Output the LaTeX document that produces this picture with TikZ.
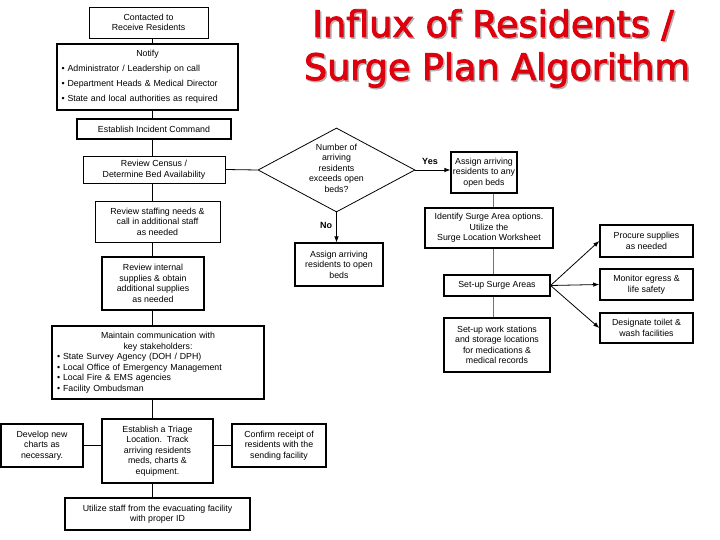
\documentclass[tikz,border=0pt]{standalone}
\usepackage{fontspec}
\setmainfont{Liberation Sans}
\newfontfamily\titlefont[RawFeature={embolden=2.5}]{DejaVu Sans}
\usetikzlibrary{shapes.geometric,arrows.meta}
\definecolor{titlered}{RGB}{222,0,12}
\begin{document}
\begin{tikzpicture}[x=1pt,y=-1pt,
  box/.style={draw, line width=0.8pt, inner sep=0pt, align=center, font=\fontsize{8.8}{10.5}\selectfont},
  thickbox/.style={box, line width=1.5pt},
  link/.style={line width=0.8pt},
  glink/.style={line width=0.7pt, draw=black!55},
  arr/.style={line width=0.8pt, -{Latex[length=6pt,width=4.5pt]}},
  lbl/.style={font=\bfseries\fontsize{9}{10}\selectfont, inner sep=0pt},
  titletext/.style={font=\titlefont\fontsize{36.5}{40}\selectfont, inner sep=0pt, anchor=base}]
\useasboundingbox[fill=white] (0,0) rectangle (720,540);

% title
\node[titletext, text=black!30] (title1s) at (494.5,38.5) {Influx of Residents /};
\node[titletext, text=black!30] (title2s) at (498.5,81.5) {Surge Plan Algorithm};
\node[titletext, text=titlered] (title1) at (493,37) {Influx of Residents /};
\node[titletext, text=titlered] (title2) at (497,80) {Surge Plan Algorithm};

% left column
\node[box, minimum width=119pt, minimum height=31pt] (contacted) at (148.5,22.5) {Contacted to\\Receive Residents};
\node[thickbox, minimum width=181pt, minimum height=66pt, text width=172pt, align=left,
      font=\fontsize{8.8}{15}\selectfont] (notify) at (147.5,77)
  {\makebox[172pt]{Notify}\\ • Administrator / Leadership on call\\ • Department Heads \& Medical Director\\ • State and local authorities as required};
\node[thickbox, minimum width=154pt, minimum height=20pt] (incident) at (154,129) {Establish Incident Command};
\node[box, minimum width=142pt, minimum height=27pt] (census) at (154,169.5) {Review Census /\\Determine Bed Availability};
\node[box, minimum width=125pt, minimum height=41pt] (staffing) at (157.5,221.5) {Review staffing needs \&\\call in additional staff\\as needed};
\node[box, line width=1.1pt, minimum width=102pt, minimum height=53pt] (supplies) at (153,283.5) {Review internal\\supplies \& obtain\\additional supplies\\as needed};
\node[box, line width=1.1pt, minimum width=212pt, minimum height=73pt, text width=202pt, align=left] (maintain) at (158,362.5)
  {\makebox[202pt]{Maintain communication with}\\ \makebox[202pt]{key stakeholders:}\\ • State Survey Agency (DOH / DPH)\\ • Local Office of Emergency Management\\ • Local Fire \& EMS agencies\\ • Facility Ombudsman};
\node[box, line width=1.1pt, minimum width=111pt, minimum height=64pt] (triage) at (157.5,451) {Establish a Triage\\Location.\ \ Track\\arriving residents\\meds, charts \&\\equipment.};
\node[thickbox, minimum width=82pt, minimum height=43pt] (develop) at (42,445.5) {Develop new\\charts as\\necessary.};
\node[thickbox, minimum width=94pt, minimum height=43pt] (confirm) at (279,445.5) {Confirm receipt of\\residents with the\\sending facility};
\node[thickbox, minimum width=185pt, minimum height=32pt] (utilize) at (157.5,514) {Utilize staff from the evacuating facility\\with proper ID};

% decision
\node[diamond, draw, line width=0.8pt, minimum width=157pt, minimum height=84pt, inner sep=0pt] (decision) at (336.5,170) {};
\node[box, draw=none] (dectext) at (336.5,168) {Number of\\arriving\\residents\\exceeds open\\beds?};
\node[box, line width=1.1pt, minimum width=88pt, minimum height=43pt] (openbeds) at (339,264.5) {Assign arriving\\residents to open\\beds};

% right column
\node[box, line width=1.1pt, minimum width=66pt, minimum height=41pt] (anyopen) at (484,172.5) {Assign arriving\\residents to any\\open beds};
\node[box, line width=1.1pt, minimum width=128pt, minimum height=40pt] (identify) at (489,228) {Identify Surge Area options.\\Utilize the\\Surge Location Worksheet};
\node[box, line width=1.1pt, minimum width=106pt, minimum height=21pt] (surge) at (497,285.5) {Set-up Surge Areas};
\node[box, line width=1.1pt, minimum width=106pt, minimum height=54pt] (work) at (497,345) {Set-up work stations\\and storage locations\\for medications \&\\medical records};
\node[thickbox, minimum width=93pt, minimum height=32pt] (procure) at (646.5,241) {Procure supplies\\as needed};
\node[thickbox, minimum width=93pt, minimum height=31pt] (monitor) at (646.5,284.5) {Monitor egress \&\\life safety};
\node[thickbox, minimum width=93pt, minimum height=30pt] (designate) at (646.5,328) {Designate toilet \&\\wash facilities};

% connectors
\coordinate (spine) at (152,0);
\coordinate (rspine) at (493,0);
\draw[link] (contacted.south -| spine) -- (notify.north -| spine);
\draw[link] (notify.south -| spine) -- (incident.north -| spine);
\draw[link] (incident.south -| spine) -- (census.north -| spine);
\draw[link] (census.south -| spine) -- (staffing.north -| spine);
\draw[link] (staffing.south -| spine) -- (supplies.north -| spine);
\draw[link] (supplies.south -| spine) -- (maintain.north -| spine);
\draw[link] (maintain.south -| spine) -- (triage.north -| spine);
\draw[link] (triage.south -| spine) -- (utilize.north -| spine);
\draw[link] (develop.east) -- (develop.east -| triage.west);
\draw[link] (confirm.west) -- (confirm.west -| triage.east);
\draw[link] (census.east) -- (decision.west);
\draw[arr] (decision.east) -- (decision.east -| anyopen.west);
\draw[arr] (decision.south) -- (openbeds.north -| decision.south);
\node[lbl] (yes) at (430,161) {Yes};
\node[lbl] (no) at (326,225) {No};
\draw[glink] (anyopen.south -| rspine) -- (identify.north -| rspine);
\draw[glink] (identify.south -| rspine) -- (surge.north -| rspine);
\draw[glink] (surge.south -| rspine) -- (work.north -| rspine);
\draw[arr] (surge.east) -- (procure.west);
\draw[arr] (surge.east) -- (monitor.west);
\draw[arr] (surge.east) -- (designate.west);
\end{tikzpicture}
\end{document}
